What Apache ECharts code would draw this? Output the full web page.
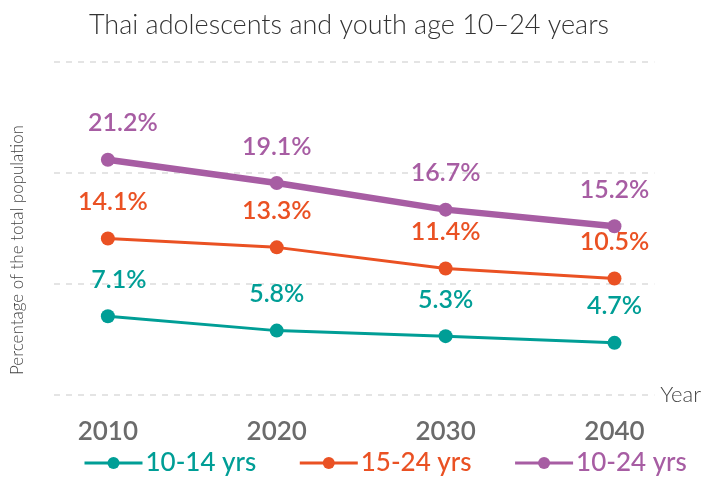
<!DOCTYPE html>
<html><head><meta charset="utf-8">
<script src="https://cdn.jsdelivr.net/npm/echarts@6/dist/echarts.min.js"></script>
<style>html,body{margin:0;padding:0;background:#fff}#c{width:704px;height:502px}</style>
</head><body><div id="c"></div>
<script>
const years = [2010, 2020, 2030, 2040];
const seriesNames = ['10-14 yrs', '15-24 yrs', '10-24 yrs'];
const v1014 = [7.1, 5.8, 5.3, 4.7];
const v1524 = [14.1, 13.3, 11.4, 10.5];
const v1024 = [21.2, 19.1, 16.7, 15.2];
const yTicks = [0, 10, 20, 30];
const titleText = 'Thai adolescents and youth age 10–24 years';
const yName = 'Percentage of the total population';
const xName = 'Year';

const colors = ['#009e96', '#ea5123', '#a75da3'];
const firstOffsets = [11, 5, 15];
const widths = [3, 3, 6.5];
const FONT = 'Lato, "Open Sans", sans-serif';

function mk(idx, vals) {
  return {
    name: seriesNames[idx], type: 'line', data: vals.map((v, i) => {
      const d = { value: [years[i], v] };
      if (i === 0) d.label = { offset: [firstOffsets[idx], 0] };
      return d;
    }),
    symbol: 'circle', symbolSize: 14,
    itemStyle: { color: colors[idx] },
    lineStyle: { color: colors[idx], width: widths[idx] },
    label: {
      show: true, position: 'top', distance: 17,
      formatter: p => p.value[1].toFixed(1) + '%',
      color: colors[idx], fontSize: 25, fontWeight: 600, fontFamily: FONT
    },
    z: 3 + idx
  };
}

const chart = echarts.init(document.getElementById('c'), null, { renderer: 'canvas' });
chart.setOption({
  animation: false,
  title: {
    text: titleText, left: 344, top: 7, textAlign: 'center',
    textStyle: { fontFamily: FONT, fontWeight: 300, fontSize: 27, color: '#333' }
  },
  grid: { left: 54, right: 48, top: 62, bottom: 107 },
  xAxis: {
    type: 'value', min: 2006.81, max: 2042.36,
    name: xName, nameLocation: 'end', nameGap: 6,
    nameTextStyle: { fontFamily: FONT, fontWeight: 300, fontSize: 22, color: '#444', padding: [0, 0, 10, 0] },
    axisLine: { show: false }, axisTick: { show: false },
    splitLine: { show: false },
    axisLabel: {
      customValues: years, margin: 24,
      fontFamily: FONT, fontSize: 26, fontWeight: 600, color: '#6b6b6b',
      formatter: v => String(v)
    }
  },
  yAxis: {
    type: 'value', min: yTicks[0], max: yTicks[yTicks.length - 1], interval: 10,
    axisLine: { show: false }, axisTick: { show: false }, axisLabel: { show: false },
    splitLine: { show: true, lineStyle: { color: '#dcdcdc', type: [6, 6], width: 1.5 } }
  },
  legend: {
    data: seriesNames.map((n, i) => ({ name: n, textStyle: { color: colors[i] } })),
    bottom: 21, left: 78, itemGap: 42, itemWidth: 58, itemHeight: 15,
    lineStyle: { width: 3 },
    textStyle: { fontFamily: FONT, fontSize: 26, fontWeight: 500, padding: [0, 0, 0, -2] }
  },
  graphic: [{
    type: 'text', x: 18, y: 250, rotation: Math.PI / 2,
    style: { text: yName, fill: '#444', font: '300 17px Lato, sans-serif', align: 'center', verticalAlign: 'middle' }
  }],
  series: [mk(0, v1014), mk(1, v1524), mk(2, v1024)]
});
</script>
</body></html>
